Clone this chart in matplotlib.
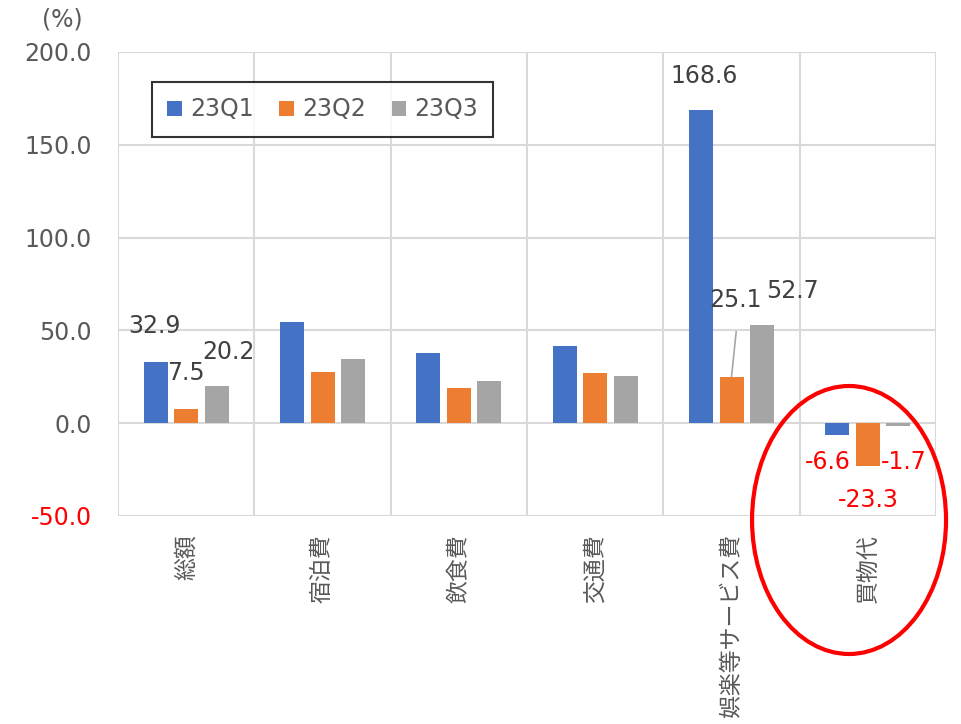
import matplotlib
matplotlib.use("Agg")
import matplotlib.pyplot as plt
from matplotlib.patches import Ellipse
import numpy as np

plt.rcParams['font.family'] = ['DejaVu Sans', 'Noto Sans CJK JP']

categories = ['総額', '宿泊費', '飲食費', '交通費', '娯楽等サービス費', '買物代']
series = ['23Q1', '23Q2', '23Q3']
q1 = [32.9, 54.5, 37.7, 41.5, 168.6, -6.6]
q2 = [7.5, 27.5, 18.9, 26.9, 25.1, -23.3]
q3 = [20.2, 34.5, 22.6, 25.3, 52.7, -1.7]
colors = ['#4472C4', '#ED7D31', '#A5A5A5']
yticks = [-50, 0, 50, 100, 150, 200]

# which bars get a value label, and where the label sits (data coords)
labelled = [(0, 0), (0, 1), (0, 2), (4, 0), (4, 1), (4, 2), (5, 0), (5, 1), (5, 2)]
label_pos = [(-0.23, 52.3), (0.0, 26.9), (0.31, 38.3),
             (3.80, 187.0), (4.03, 66.3), (4.45, 71.1),
             (4.71, -21.0), (5.00, -41.5), (5.26, -21.0)]

fig = plt.figure(figsize=(9.61, 7.24), dpi=100)
ax = fig.add_axes([0.1228, 0.2873, 0.974 - 0.1228, 0.9282 - 0.2873])

x = np.arange(len(categories))
step = 0.224
width = 0.176
vals = [q1, q2, q3]
for j, (name, v, c) in enumerate(zip(series, vals, colors)):
    ax.bar(x + (j - 1) * step, v, width, color=c, label=name, zorder=3)

for (i, j), (tx, ty) in zip(labelled, label_pos):
    v = vals[j][i]
    col = '#FF0000' if v < 0 else '#404040'
    bx = x[i] + (j - 1) * step
    if (i, j) == (4, 1):
        ax.annotate(f'{v:.1f}', xy=(bx, v), xytext=(tx, ty), ha='center', va='center',
                    fontsize=17, color=col, zorder=5,
                    arrowprops=dict(arrowstyle='-', color='#A6A6A6', lw=1.2,
                                    relpos=(0.55, 0), shrinkA=12, shrinkB=0))
    else:
        ax.text(tx, ty, f'{v:.1f}', ha='center', va='center', fontsize=17, color=col, zorder=5)

ax.set_xlim(-0.5, 5.5)
ax.set_ylim(-50, 200)
ax.set_yticks(yticks)
ax.set_yticklabels([f'{t:.1f}' for t in yticks])
ax.set_xticks(x)
ax.set_xticklabels(categories, rotation=90, fontsize=16.5, family=['Noto Sans CJK JP'])
ax.set_xticks(np.arange(-0.5, 6), minor=True)
ax.tick_params(axis='x', which='major', length=0, pad=13, colors='#595959')
ax.tick_params(axis='x', which='minor', length=0)
ax.tick_params(axis='y', length=0, pad=19, labelsize=17, colors='#595959')
ax.get_yticklabels()[0].set_color('#FF0000')
for tl in ax.get_xticklabels():
    tl.set_va('top')

ax.grid(axis='y', color='#D9D9D9', lw=1.5, zorder=0)
ax.grid(axis='x', which='minor', color='#D9D9D9', lw=1.5, zorder=0)
ax.set_axisbelow(True)
for s in ax.spines.values():
    s.set_visible(False)

leg = ax.legend(loc='upper left', bbox_to_anchor=(0.0416, 0.935), borderaxespad=0,
                ncol=3, fontsize=17, frameon=True, fancybox=False,
                handlelength=0.6, handleheight=0.6, handletextpad=0.35,
                columnspacing=1.1, borderpad=0.65)
leg.get_frame().set_edgecolor('black')
leg.get_frame().set_linewidth(1.5)
for t in leg.get_texts():
    t.set_color('#595959')

fig.text(62 / 961, 1 - 20 / 724, '(%)', ha='center', va='center', fontsize=17, color='#595959')

ell = Ellipse((0.8835, 1 - 520 / 724), 194 / 961, 268 / 724, transform=fig.transFigure,
              fill=False, edgecolor='#FF0000', lw=3, clip_on=False, zorder=10)
fig.patches.append(ell)

fig.savefig('out.png', dpi=100)
